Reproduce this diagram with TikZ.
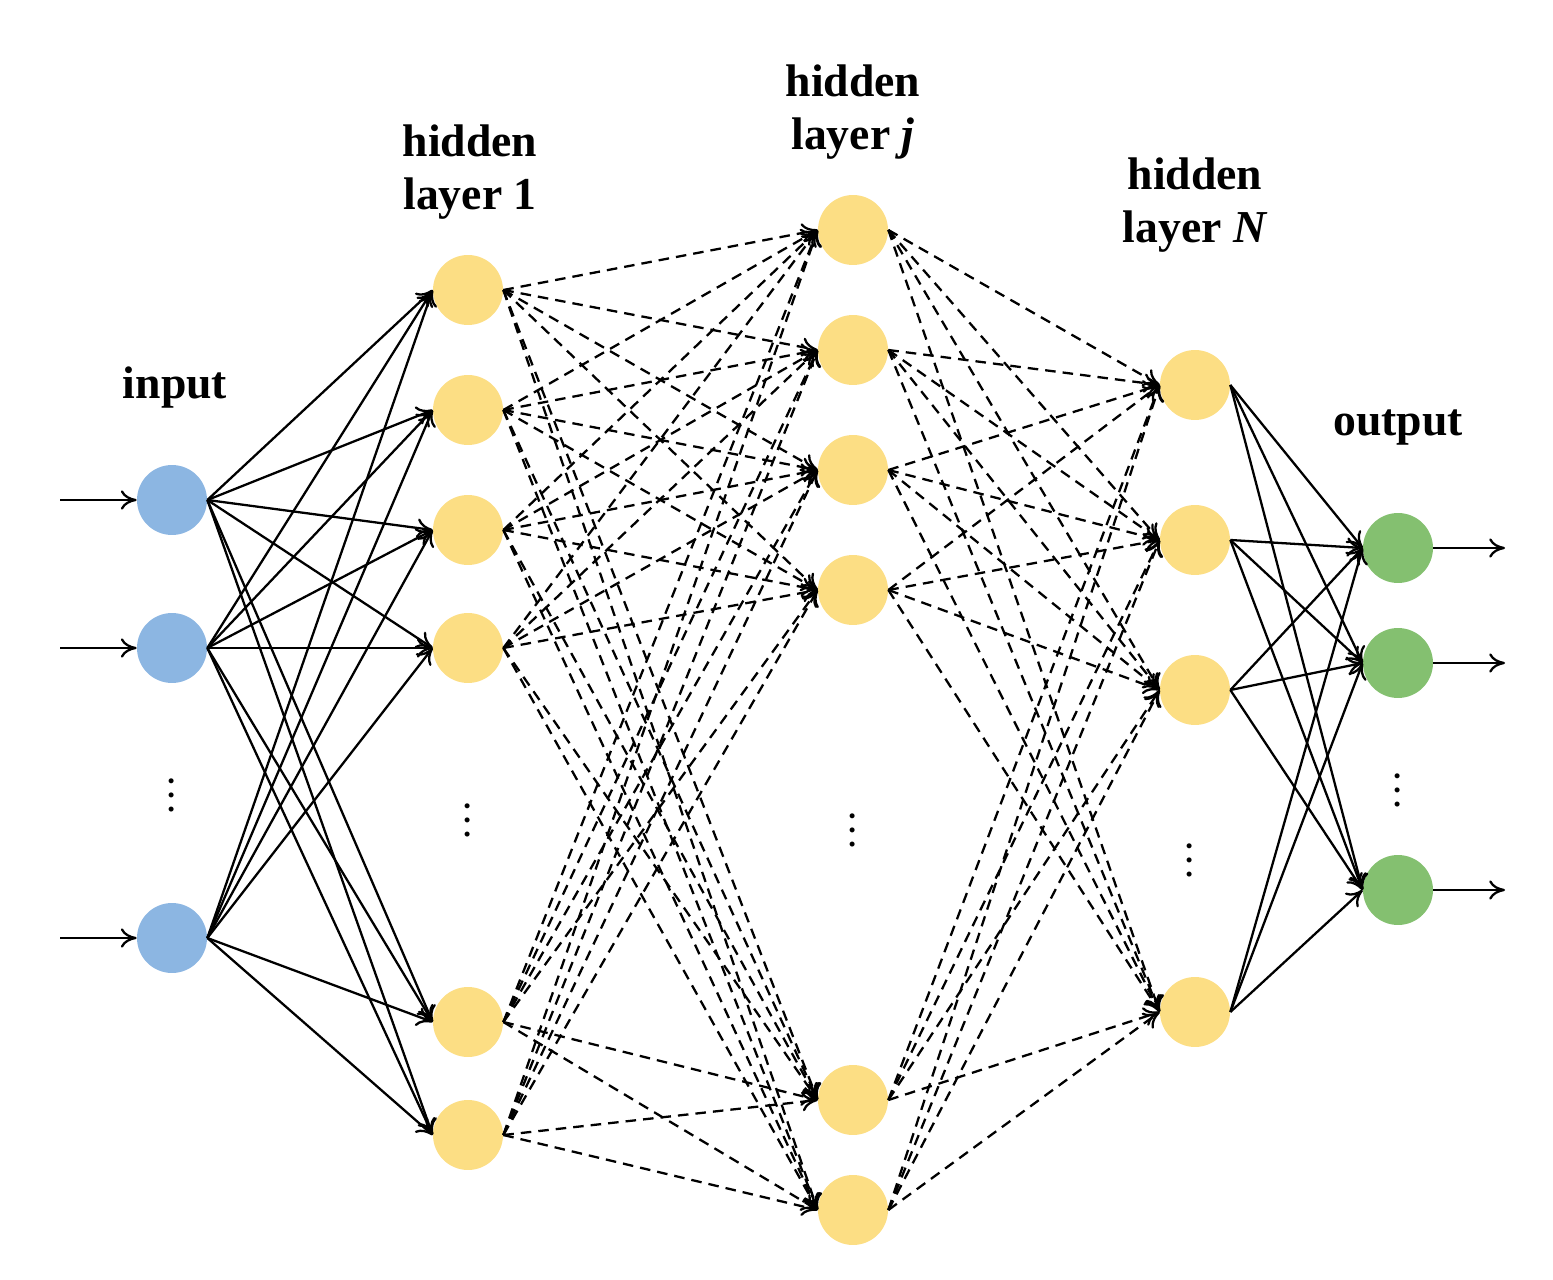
\documentclass[tikz,border=0pt]{standalone}
\usepackage{fontspec}
\setmainfont{Liberation Serif}
\usetikzlibrary{arrows.meta}
\definecolor{cin}{RGB}{140,182,226}
\definecolor{chid}{RGB}{252,222,132}
\definecolor{cout}{RGB}{132,192,112}
\begin{document}
\begin{tikzpicture}[x=0.02cm,y=-0.02cm,
  neu/.style={circle,minimum size=1.4cm,inner sep=0pt},
  inn/.style={neu,fill=cin},hid/.style={neu,fill=chid},outn/.style={neu,fill=cout},
  sc/.style={-{To[length=9pt,width=11pt]},line width=1.3pt},
  dc/.style={sc,dashed,dash pattern=on 6pt off 4pt},
  lab/.style={font=\fontsize{26}{30}\selectfont\bfseries,align=center},
  vd/.style={font=\fontsize{24}{24}\selectfont}]
\useasboundingbox (0,0) rectangle (1553,1280);
\foreach \y [count=\i] in {500,648,938} \node[inn] (i\i) at (172,\y) {};
\foreach \y [count=\i] in {290,410,530,648,1022,1135} \node[hid] (a\i) at (468,\y) {};
\foreach \y [count=\i] in {230,350,470,590,1100,1210} \node[hid] (b\i) at (853,\y) {};
\foreach \y [count=\i] in {385,540,690,1012} \node[hid] (c\i) at (1195,\y) {};
\foreach \y [count=\i] in {548,663,890} \node[outn] (o\i) at (1398,\y) {};
\foreach \x/\y/\n in {172/795/d1,468/820/d2,853/830/d3,1190/860/d4,1398/790/d5}
  \node[vd,rotate=90] (\n) at (\x,\y) {\dots};
\node[lab] (l1) at (175,388) {input};
\node[lab] (l2) at (470,172) {hidden\\layer 1};
\node[lab] (l3) at (853,112) {hidden\\layer \textit{j}};
\node[lab] (l4) at (1195,205) {hidden\\layer \textit{N}};
\node[lab] (l5) at (1398,428) {output};
\foreach \i/\y in {1/500,2/648,3/938} {
  \coordinate (s\i) at (60,\y);
  \draw[sc] (s\i) -- (i\i.west);
}
\foreach \i/\y in {1/548,2/663,3/890} {
  \coordinate (e\i) at (1505,\y);
  \draw[sc] (o\i.east) -- (e\i);
}
\foreach \i in {1,2,3} \foreach \j in {1,...,6} \draw[sc] (i\i.east) -- (a\j.west);
\foreach \i in {1,...,6} \foreach \j in {1,...,6} \draw[dc] (a\i.east) -- (b\j.west);
\foreach \i in {1,...,6} \foreach \j in {1,...,4} \draw[dc] (b\i.east) -- (c\j.west);
\foreach \i in {1,...,4} \foreach \j in {1,2,3} \draw[sc] (c\i.east) -- (o\j.west);
\end{tikzpicture}
\end{document}
